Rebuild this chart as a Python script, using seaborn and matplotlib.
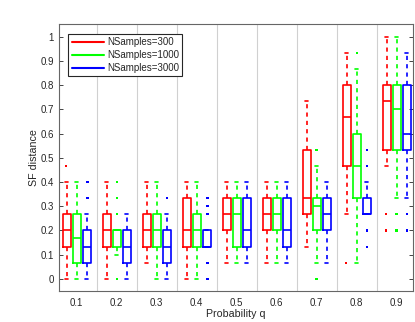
import pandas as pd
import matplotlib
matplotlib.use("Agg")
import matplotlib.pyplot as plt
from matplotlib.lines import Line2D
from matplotlib.ticker import FormatStrFormatter
import seaborn as sns

# categorias (probabilidade q) e series (NSamples)
q_labels = ["0.1", "0.2", "0.3", "0.4", "0.5", "0.6", "0.7", "0.8", "0.9"]
series = ["NSamples=300", "NSamples=1000", "NSamples=3000"]
colors = ["#ff0000", "#00ff00", "#0000ff"]

# caixas: (whisker inf, q1, mediana, q3, whisker sup)
box_300 = [(0, .133, .2, .267, .4), (0, .133, .2, .267, .4), (.067, .133, .2, .267, .4),
           (0, .133, .2, .333, .4), (.067, .2, .267, .333, .4), (.067, .2, .267, .333, .4),
           (.133, .267, .333, .533, .733), (.267, .467, .667, .8, .933), (.467, .533, .733, .8, 1.0)]
box_1000 = [(0, .067, .167, .267, .4), (.1, .133, .2, .2, .2), (0, .133, .2, .267, .4),
            (0, .133, .2, .267, .4), (.067, .133, .267, .333, .4), (.067, .2, .267, .333, .4),
            (.067, .2, .3, .333, .467), (.067, .333, .467, .6, .867), (.333, .533, .7, .8, 1.0)]
box_3000 = [(0, .067, .133, .2, .267), (0, .067, .133, .2, .267), (0, .067, .133, .2, .267),
            (.133, .133, .133, .2, .2), (.067, .133, .2, .333, .4), (.067, .133, .2, .333, .4),
            (.067, .2, .267, .333, .4), (.267, .267, .267, .333, .4), (.333, .533, .6, .8, .933)]

# outliers: (q, valor)
out_300 = [("0.1", .467), ("0.8", .067), ("0.9", .267), ("0.9", .2)]
out_1000 = [("0.2", .4), ("0.2", .333), ("0.2", .267), ("0.2", 0), ("0.7", .533), ("0.7", 0),
            ("0.8", .933), ("0.9", .267), ("0.9", .2)]
out_3000 = [("0.1", .4), ("0.1", .333), ("0.3", .333), ("0.4", .333), ("0.4", .3), ("0.4", .267),
            ("0.4", .067), ("0.4", 0), ("0.8", .533), ("0.8", .467), ("0.8", .2), ("0.8", .133),
            ("0.9", .267), ("0.9", .2)]

rows = []
for name, boxes in zip(series, [box_300, box_1000, box_3000]):
    for q, stats in zip(q_labels, boxes):
        for v in stats:
            rows.append((q, name, v))
df_box = pd.DataFrame(rows, columns=["q", "ns", "v"])

rows = []
for name, outs in zip(series, [out_300, out_1000, out_3000]):
    for q, v in outs:
        rows.append((q, name, v))
df_out = pd.DataFrame(rows, columns=["q", "ns", "v"])

sns.set_style("ticks")
plt.rcParams["font.family"] = ["Liberation Sans", "DejaVu Sans"]
plt.rcParams["font.size"] = 7

fig = plt.figure(figsize=(4.15, 3.22), dpi=100)
ax = fig.add_axes([0.143, 0.096, 0.852, 0.828])

for i in range(len(q_labels) - 1):
    ax.axvline(i + 0.5, color="#d0d0d0", lw=0.8, zorder=0)

sns.boxplot(data=df_box, x="q", y="v", hue="ns", order=q_labels, hue_order=series,
            palette=colors, whis=(0, 100), fill=False, width=0.75, gap=0.2,
            linewidth=1.2, showfliers=False, capwidths=0.07,
            whiskerprops=dict(linestyle=(0, (2.5, 2.5))), legend=False, ax=ax)

sns.stripplot(data=df_out, x="q", y="v", hue="ns", order=q_labels, hue_order=series,
              palette=colors, dodge=True, jitter=False, marker="s", size=1.7,
              linewidth=0, legend=False, ax=ax)

ax.set_xlim(-0.435, 8.41)
ax.set_ylim(-0.05, 1.05)
ax.set_yticks([i / 10 for i in range(11)])
ax.yaxis.set_major_formatter(FormatStrFormatter("%g"))
ax.tick_params(axis="y", direction="in", length=3, width=0.6, pad=4, labelsize=7,
               right=True, colors="#262626")
ax.tick_params(axis="x", length=0, pad=5, labelsize=7, colors="#262626")
for s in ax.spines.values():
    s.set_visible(True)
    s.set_color("#666666")
    s.set_linewidth(0.8)

ax.set_xlabel("Probability q", fontsize=7.7, labelpad=1, color="#262626")
ax.set_ylabel("SF distance", fontsize=7.7, labelpad=1, color="#262626")

handles = [Line2D([], [], color=c, lw=1.5) for c in colors]
leg = ax.legend(handles, series, loc="upper left", bbox_to_anchor=(0.025, 0.965),
                borderaxespad=0, fontsize=7, handlelength=3.3, handletextpad=0.35,
                labelspacing=0.3, borderpad=0.35, fancybox=False, framealpha=1)
leg.get_frame().set_edgecolor("#262626")
leg.get_frame().set_linewidth(0.8)

fig.savefig("out.png", dpi=100)
